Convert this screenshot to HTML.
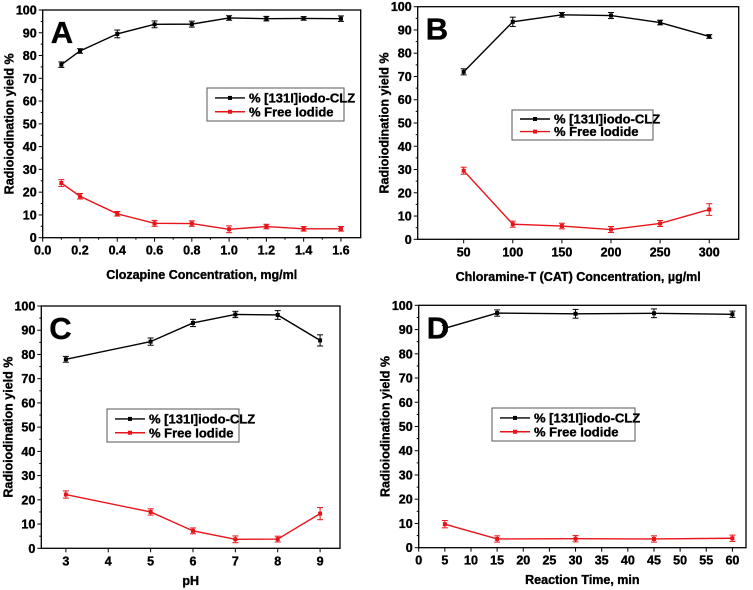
<!DOCTYPE html>
<html><head><meta charset="utf-8"><style>
html,body{margin:0;padding:0;background:#fff;}
svg{display:block;}
svg text{font-family:"Liberation Sans",Arial,sans-serif;font-weight:700;fill:#000;stroke:#000;stroke-width:0.35px;}
</style></head><body>
<svg id="fig" width="753" height="590" viewBox="0 0 753 590" xmlns="http://www.w3.org/2000/svg"></svg>
<script>
// Panel A data
const aX = [0.1,0.2,0.4,0.6,0.8,1.0,1.2,1.4,1.6];
const aCLZ = [76,82,89.5,93.7,93.8,96.5,96.2,96.3,96.2];
const aCLZErr = [1.2,1,1.7,1.5,1.3,1,1,0.8,1.2];
const aFree = [24,18.2,10.5,6.3,6.2,3.7,4.9,3.9,3.9];
const aFreeErr = [1.5,1.2,1,1.3,1.2,1.5,1,1,1];
const aTicks = ["0.0","0.2","0.4","0.6","0.8","1.0","1.2","1.4","1.6"];
// Panel B data
const bX = [50,100,150,200,250,300];
const bCLZ = [72,93.5,96.5,96.2,93.2,87.2];
const bCLZErr = [1.3,2,1,1.3,1,0.8];
const bFree = [29.5,6.5,5.7,4.2,6.8,12.8];
const bFreeErr = [1.5,1.3,1.2,1.3,1.3,2.5];
const bTicks = ["50","100","150","200","250","300"];
// Panel C data
const cX = [3,5,6,7,8,9];
const cCLZ = [78,85.3,93,96.5,96.3,85.8];
const cCLZErr = [1.2,1.5,1.5,1.3,1.8,2.3];
const cFree = [22.2,15,7.2,3.7,3.8,14.3];
const cFreeErr = [1.5,1.3,1.2,1.4,1.2,2.5];
const cTicks = ["3","4","5","6","7","8","9"];
// Panel D data
const dX = [5,15,30,45,60];
const dCLZ = [90.5,96.8,96.5,96.7,96.3];
const dCLZErr = [1.2,1.3,1.8,1.8,1.3];
const dFree = [9.7,3.6,3.7,3.6,3.9];
const dFreeErr = [1.5,1.3,1.3,1.3,1.3];
const dTicks = ["0","5","10","15","20","25","30","35","40","45","50","55","60"];
const yTicks = ["0","10","20","30","40","50","60","70","80","90","100"];

const NS="http://www.w3.org/2000/svg";
const svg=document.getElementById('fig');
function mk(tag,attrs,parent){const e=document.createElementNS(NS,tag);for(const k in attrs)e.setAttribute(k,attrs[k]);if(tag==='text')e.setAttribute('font-weight','bold');(parent||svg).appendChild(e);return e;}

function panel(cfg){
  const g=mk('g',{});
  
  
  const {L,R,T,B,x0,x1}=cfg;
  const sx=v=>L+(v-x0)/(x1-x0)*(R-L);
  const sy=v=>B-v/100*(B-T);
  const frame=mk('rect',{x:L,y:T,width:R-L,height:B-T,fill:'none',stroke:'#000','stroke-width':1.3},g);
  
  
  for(let i=0;i<=20;i++){
    const v=i*5,y=sy(v),maj=i%2==0;
    mk('line',{x1:L,x2:L-(maj?4:2),y1:y,y2:y,stroke:'#000','stroke-width':1},g);
    if(maj){const t=mk('text',{x:L-6,y:y+4.5,'text-anchor':'end','font-size':12.5},g);t.textContent=yTicks[i/2];
      
      }
  }
  cfg.ticks.forEach((lab,i)=>{
    const v=parseFloat(lab),x=sx(v);
    mk('line',{x1:x,x2:x,y1:B,y2:B+4,stroke:'#000','stroke-width':1},g);
    const t=mk('text',{x:x,y:B+17,'text-anchor':'middle','font-size':12.5},g);t.textContent=lab;
    
    
    if(cfg.minor&&i<cfg.ticks.length-1){
      const xm=sx((v+parseFloat(cfg.ticks[i+1]))/2);
      mk('line',{x1:xm,x2:xm,y1:B,y2:B+2,stroke:'#000','stroke-width':1},g);
    }
  });
  const xt=mk('text',{x:(L+R)/2,y:cfg.xtY,'text-anchor':'middle','font-size':12.5},g);xt.textContent=cfg.xtitle;
  
  
  const yt=mk('text',{x:0,y:0,'text-anchor':'middle','font-size':12.5,transform:`translate(${L-29},${(T+B)/2}) rotate(-90)`},g);yt.textContent='Radioiodination yield %';
  
  
  const lt=mk('text',{x:L+8,y:T+33,'font-size':31},g);lt.textContent=cfg.id;
  
  
  [[cfg.clz,cfg.clzErr,'#000','clz'],[cfg.free,cfg.freeErr,'#e8141a','free']].forEach(([ys,es,col,nm])=>{
    const pts=cfg.xs.map((x,i)=>sx(x)+','+sy(ys[i])).join(' ');
    const pl=mk('polyline',{points:pts,fill:'none',stroke:col,'stroke-width':1.4},g);
    
    
    cfg.xs.forEach((x,i)=>{
      const cx=sx(x),y1=sy(ys[i]+es[i]),y2=sy(ys[i]-es[i]);
      mk('line',{x1:cx,x2:cx,y1:y1,y2:y2,stroke:col,'stroke-width':1},g);
      mk('line',{x1:cx-3,x2:cx+3,y1:y1,y2:y1,stroke:col,'stroke-width':1},g);
      mk('line',{x1:cx-3,x2:cx+3,y1:y2,y2:y2,stroke:col,'stroke-width':1},g);
      const p=mk('rect',{x:cx-2,y:sy(ys[i])-2,width:4,height:4,fill:col},g);
      
      
    });
  });
  const [lx,ly,lw,lh]=cfg.leg;
  const lg=mk('g',{},g);
  
  
  mk('rect',{x:lx,y:ly,width:lw,height:lh,fill:'#fff',stroke:'#555','stroke-width':1},lg);
  [['% [131I]iodo-CLZ','#000'],['% Free Iodide','#e8141a']].forEach(([txt,col],i)=>{
    const yy=ly+lh*(i==0?0.3:0.72);
    mk('line',{x1:lx+8,x2:lx+38,y1:yy,y2:yy,stroke:col,'stroke-width':1.4},lg);
    mk('rect',{x:lx+21,y:yy-2,width:4,height:4,fill:col},lg);
    const t=mk('text',{x:lx+42,y:yy+4.5,'font-size':13},lg);t.textContent=txt;
    
    
  });
}
panel({id:'A',L:42.7,R:360.7,T:10,B:237.7,x0:0,x1:1.706,xs:aX,clz:aCLZ,clzErr:aCLZErr,free:aFree,freeErr:aFreeErr,ticks:aTicks,minor:true,xtitle:'Clozapine Concentration, mg/ml',xtY:279,leg:[207,88,137,33]});
panel({id:'B',L:417.7,R:738.7,T:6.7,B:239.3,x0:3.2,x1:330,xs:bX,clz:bCLZ,clzErr:bCLZErr,free:bFree,freeErr:bFreeErr,ticks:bTicks,minor:false,xtitle:'Chloramine-T (CAT) Concentration, µg/ml',xtY:281,leg:[512,110,141,30]});
panel({id:'C',L:41.3,R:340,T:306,B:548.3,x0:2.42,x1:9.47,xs:cX,clz:cCLZ,clzErr:cCLZErr,free:cFree,freeErr:cFreeErr,ticks:cTicks,minor:false,xtitle:'pH',xtY:585,leg:[107,409,132,33]});
panel({id:'D',L:418.7,R:746,T:305.3,B:547.7,x0:0,x1:62.6,xs:dX,clz:dCLZ,clzErr:dCLZErr,free:dFree,freeErr:dFreeErr,ticks:dTicks,minor:false,xtitle:'Reaction Time, min',xtY:584,leg:[492,408,143,33]});
</script>
</body></html>
